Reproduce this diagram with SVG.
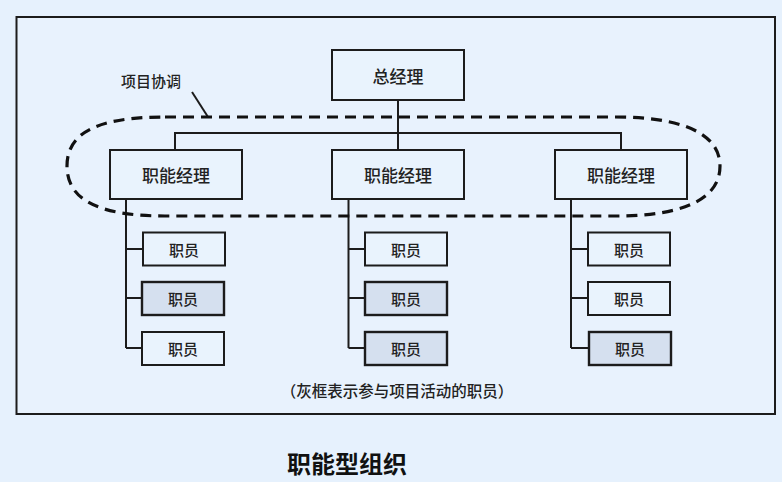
<svg xmlns="http://www.w3.org/2000/svg" width="782" height="482" viewBox="0 0 782 482">
<style>
.box{fill:#e9f3fd;stroke:#1c1c1c;stroke-width:2}
.gray{fill:#d5e0ef;stroke:#1c1c1c;stroke-width:2.4}
.ln{fill:none;stroke:#1c1c1c;stroke-width:2}
.t{font-family:"Noto Sans CJK SC","Noto Sans",sans-serif;fill:#222;text-anchor:middle;dominant-baseline:central;font-weight:500}
.m{font-size:17px}
.s{font-size:15px}
</style>
<rect x="0" y="0" width="782" height="482" fill="#e6f1fd"/>
<rect x="16.5" y="17" width="758.5" height="397" fill="#e8f2fd" stroke="#1c1c1c" stroke-width="2"/>
<g id="connectors">
<path class="ln" d="M398 100 V150 M175 150 V133 H621 V150"/>
<path class="ln" d="M126 199 V348 M126 249 H143 M126 298 H142 M126 348 H142"/>
<path class="ln" d="M348.5 199 V348 M348.5 249 H365 M348.5 298 H365 M348.5 348 H365"/>
<path class="ln" d="M571 199 V348 M571 249 H588 M571 298 H588 M571 348 H588"/>
<path class="ln" d="M192 92 L208 117"/>
</g>
<g id="coordination">
<path d="M165 117 H615 C695 117 720 140 720 166 C720 196 690 216 615 216 H165 C95 216 67 198 67 166 C67 134 95 117 165 117 Z" fill="none" stroke="#111" stroke-width="3.2" stroke-dasharray="11 7"/>
<text class="t s" x="151" y="80">项目协调</text>
</g>
<g id="gm"><rect class="box" x="332" y="50" width="132" height="50"/><text class="t m" x="398" y="75">总经理</text></g>
<g id="fm1"><rect class="box" x="110" y="150" width="132" height="49"/><text class="t m" x="176" y="174.5">职能经理</text></g>
<g id="fm2"><rect class="box" x="332" y="150" width="132" height="49"/><text class="t m" x="398" y="174.5">职能经理</text></g>
<g id="fm3"><rect class="box" x="555" y="150" width="132" height="49"/><text class="t m" x="621" y="174.5">职能经理</text></g>
<g id="s11"><rect class="box" x="143" y="232.5" width="82" height="33"/><text class="t s" x="184" y="249">职员</text></g>
<g id="s12"><rect class="gray" x="142" y="282" width="82" height="33"/><text class="t s" x="183" y="298.5">职员</text></g>
<g id="s13"><rect class="box" x="142" y="332" width="82" height="33"/><text class="t s" x="183" y="348.5">职员</text></g>
<g id="s21"><rect class="box" x="365" y="232.5" width="82" height="33"/><text class="t s" x="406" y="249">职员</text></g>
<g id="s22"><rect class="gray" x="365" y="282" width="82" height="33"/><text class="t s" x="406" y="298.5">职员</text></g>
<g id="s23"><rect class="gray" x="365" y="332" width="82" height="33"/><text class="t s" x="406" y="348.5">职员</text></g>
<g id="s31"><rect class="box" x="588" y="232.5" width="82" height="33"/><text class="t s" x="629" y="249">职员</text></g>
<g id="s32"><rect class="box" x="588" y="282" width="82" height="33"/><text class="t s" x="629" y="298.5">职员</text></g>
<g id="s33"><rect class="gray" x="589" y="332" width="82" height="33"/><text class="t s" x="630" y="348.5">职员</text></g>
<text class="t" x="397" y="390" style="font-size:15.5px">（灰框表示参与项目活动的职员）</text>
<text class="t" x="347" y="462" style="font-size:24px;font-weight:bold;fill:#111">职能型组织</text>
</svg>
